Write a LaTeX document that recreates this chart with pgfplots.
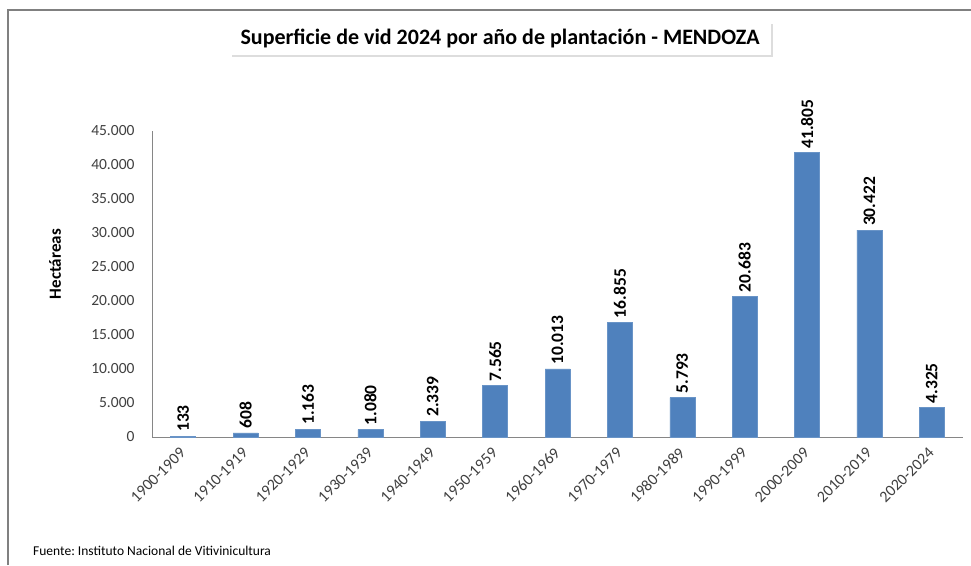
\documentclass[border=0pt]{standalone}
\usepackage{pgfplots}
\pgfplotsset{compat=1.18}
\usepackage{fontspec}
\setmainfont{Carlito}
\usetikzlibrary{shadows}
\definecolor{barblue}{HTML}{4F81BD}
\definecolor{axisgray}{HTML}{868686}
\definecolor{framegray}{HTML}{808080}
\definecolor{ticktext}{HTML}{404040}
\frenchspacing
\begin{document}
\begin{tikzpicture}
\useasboundingbox (0pt,0pt) rectangle (971pt,565pt);
\fill[white] (0pt,0pt) rectangle (971pt,565pt);
\draw[framegray, line width=2pt] (8pt,0pt) -- (8pt,555pt) -- (971pt,555pt);
\begin{axis}[
  at={(152pt,128pt)}, anchor=south west,
  width=811pt, height=306pt, scale only axis,
  xmin=-0.5, xmax=12.5, ymin=0, ymax=45000,
  ybar, bar width=25pt,
  axis x line=bottom, axis y line=left,
  axis line style={-, draw=axisgray, line width=0.8pt},
  xtick=data,
  xticklabels={1900-1909,1910-1919,1920-1929,1930-1939,1940-1949,1950-1959,1960-1969,1970-1979,1980-1989,1990-1999,2000-2009,2010-2019,2020-2024},
  ytick={0,5000,...,45000},
  major tick length=0pt,
  /pgf/number format/.cd, 1000 sep={.}, assume math mode=true, /pgfplots/.cd,
  scaled y ticks=false,
  yticklabel style={font=\fontsize{15.5}{15.5}\selectfont, text=ticktext, xshift=-14pt},
  xticklabel style={font=\fontsize{16}{16}\selectfont, text=ticktext, xshift=2pt, yshift=-11pt, rotate=45, anchor=east},
  ylabel={Hectáreas},
  ylabel style={at={(axis description cs:-0.1196,0.565)}, anchor=center, font=\bfseries\fontsize{17}{17}\selectfont},
  nodes near coords,
  every node near coord/.append style={rotate=90, anchor=west, font=\bfseries\fontsize{17.5}{17.5}\selectfont, text=black, inner sep=4pt},
  clip=false,
]
\addplot[fill=barblue, draw=barblue!85!white, line width=0.5pt] coordinates {
 (0,133) (1,608) (2,1163) (3,1080) (4,2339) (5,7565) (6,10013) (7,16855) (8,5793) (9,20683) (10,41805) (11,30422) (12,4325)
};
\end{axis}
\node[fill=white, minimum width=541pt, minimum height=33pt, inner sep=0pt,
  drop shadow={shadow xshift=2pt, shadow yshift=-2pt, opacity=0.22, fill=black!60},
  font=\bfseries\fontsize{22}{22}\selectfont] at (500pt,526.5pt) {Superficie de vid 2024 por año de plantación - MENDOZA};
\node[anchor=west, inner sep=0pt, font=\fontsize{13.5}{13.5}\selectfont] at (33pt,14pt) {Fuente: Instituto Nacional de Vitivinicultura};
\end{tikzpicture}
\end{document}
